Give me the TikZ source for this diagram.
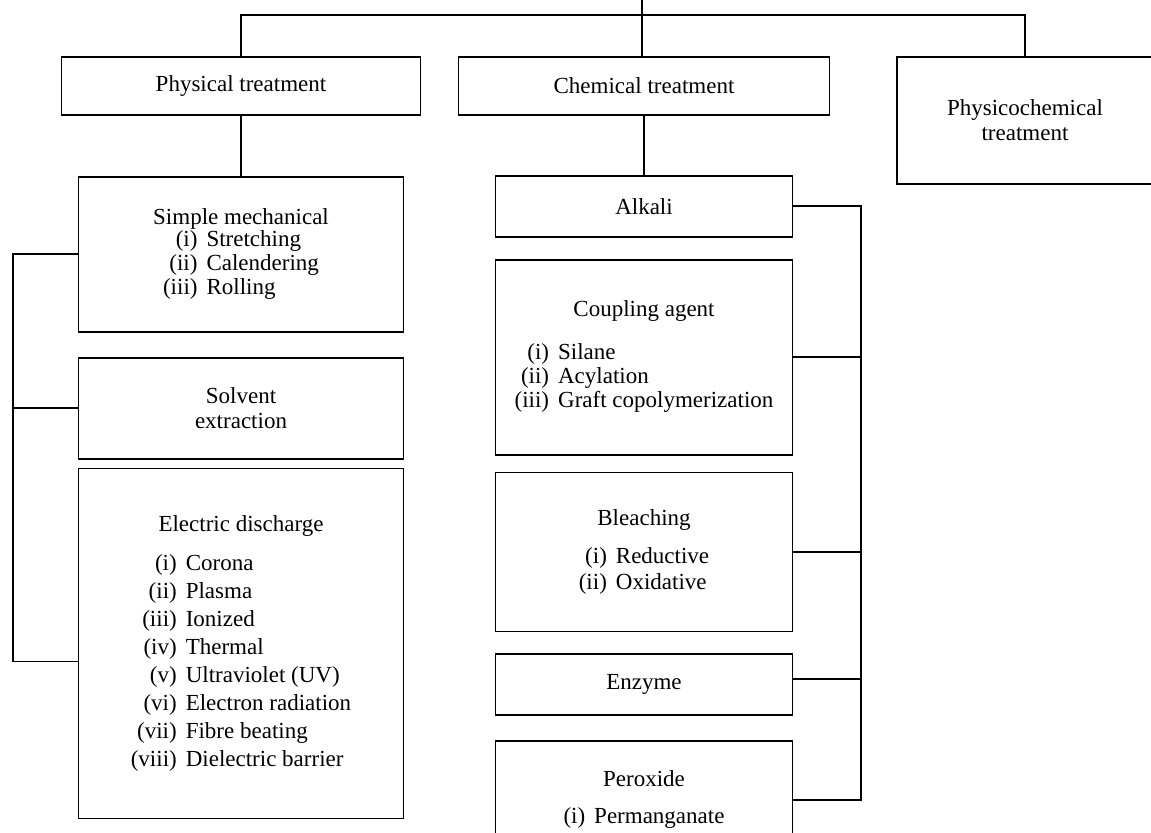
\documentclass[tikz,border=0pt]{standalone}
\usepackage{fontspec}
\setmainfont{Liberation Serif}
\usepackage{tikz}
\usetikzlibrary{positioning}

% heading, gap, numbered items
\newcommand{\kind}[3]{\begin{tabular}{@{}c@{}}#1\\[#2]\begin{tabular}{@{}r@{\hspace{4.5pt}}l@{}}#3\end{tabular}\end{tabular}}

\begin{document}
\begin{tikzpicture}[x=0.5pt, y=-0.5pt, node distance=10pt, line width=0.9pt]
    \tikzstyle{box}=[draw, rectangle, align=center, inner sep=2pt, font=\fontsize{11.5}{12.5}\selectfont]
    \tikzstyle{phybox}=[box, minimum width=162.5pt]
    \tikzstyle{chembox}=[box, minimum width=148.5pt]

    \useasboundingbox (0,0) rectangle (1151,832);

    \node[box, minimum width=179.5pt, minimum height=29pt] (phys) at (241,86) {Physical treatment};
    \node[box, minimum width=185.5pt, minimum height=29pt] (chem) at (644,86) {Chemical treatment};
    \node[box, minimum width=128pt, minimum height=63.5pt] (physchem) at (1025,120.5) {Physicochemical\\treatment};

    % physical column
    \node[phybox, minimum height=77.5pt, font=\fontsize{11.5}{12}\selectfont] (simple) [below=30pt of phys]
        {\kind{Simple mechanical}{-1pt}{(i) & Stretching\\(ii) & Calendering\\(iii) & Rolling}};
    \node[phybox, minimum height=50.5pt] (solvent) [below=12pt of simple] {Solvent\\extraction};
    \node[phybox, minimum height=175pt, font=\fontsize{11.5}{14}\selectfont] (elec) [below=4pt of solvent]
        {\kind{Electric discharge}{5.5pt}{(i) & Corona\\(ii) & Plasma\\(iii) & Ionized\\(iv) & Thermal\\(v) & Ultraviolet (UV)\\(vi) & Electron radiation\\(vii) & Fibre beating\\(viii) & Dielectric barrier}};

    % chemical column
    \node[chembox, minimum height=30.5pt] (alkali) [below=29.5pt of chem] {Alkali};
    \node[chembox, minimum height=97.5pt, font=\fontsize{11.5}{12}\selectfont] (coupling) [below=10.5pt of alkali]
        {\kind{Coupling agent}{9.5pt}{(i) & Silane\\(ii) & Acylation\\(iii) & Graft copolymerization}};
    \node[chembox, minimum height=79.5pt, font=\fontsize{11.5}{13}\selectfont] (bleach) [below=8pt of coupling]
        {\kind{Bleaching}{6pt}{(i) & Reductive\\(ii) & Oxidative}};
    \node[chembox, minimum height=30.5pt] (enzyme) [below=10.5pt of bleach] {Enzyme};
    \node[chembox, minimum height=59pt] (perox) [below=12pt of enzyme]
        {\kind{Peroxide}{6pt}{(i) & Permanganate}};

    \coordinate (root) at (642,0);
    \coordinate (bus) at (642,15);
    \coordinate (lbus) at (13,250);
    \coordinate (rbus) at (861,206);

    \draw (root) -- (bus |- chem.north);
    \draw (phys.north) -- (phys.north |- bus) -- (physchem.north |- bus) -- (physchem.north);

    \path
    (phys) edge (simple)
    (chem) edge (alkali);

    \draw (simple.west) -- (simple.west -| lbus) |- ([yshift=-9pt]elec.west);
    \draw (solvent.west) -- (solvent.west -| lbus);

    \draw (alkali.east) -- (alkali.east -| rbus) |- (perox.east);
    \draw (coupling.east) -- (coupling.east -| rbus);
    \draw (bleach.east) -- (bleach.east -| rbus);
    \draw ([yshift=2.75pt]enzyme.east) -- ([yshift=2.75pt]enzyme.east -| rbus);

\end{tikzpicture}
\end{document}
